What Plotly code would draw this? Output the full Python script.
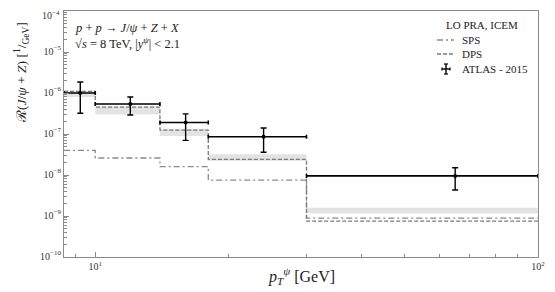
import plotly.graph_objects as go

# bin edges (GeV)
bin_edges = [8.5, 10, 14, 18, 30, 100]
# SPS (dash-dot) per bin
sps = [4.0e-8, 2.6e-8, 1.6e-8, 7.5e-9, 8.9e-10]
# DPS (dashed) per bin
dps = [1.1e-6, 4.5e-7, 1.25e-7, 2.4e-8, 7.5e-10]
# uncertainty band per bin
band_lo = [8.0e-7, 3.0e-7, 9.0e-8, 2.2e-8, 1.15e-9]
band_hi = [1.15e-6, 4.7e-7, 1.35e-7, 3.2e-8, 1.6e-9]
# ATLAS 2015 data
atlas_x = [9.25, 12.0, 16.0, 24.0, 65.0]
atlas_y = [1.0e-6, 5.4e-7, 1.9e-7, 8.6e-8, 9.5e-9]
atlas_up = [1.86e-6, 8.0e-7, 3.1e-7, 1.4e-7, 1.5e-8]
atlas_dn = [3.2e-7, 2.9e-7, 7.0e-8, 3.6e-8, 4.3e-9]

# tick labels
y_tickvals = [1e-10, 1e-9, 1e-8, 1e-7, 1e-6, 1e-5, 1e-4]
y_ticktext = ["10<sup>−10</sup>", "10<sup>−9</sup>", "10<sup>−8</sup>", "10<sup>−7</sup>",
              "10<sup>−6</sup>", "10<sup>−5</sup>", "10<sup>−4</sup>"]
x_tickvals = [10, 100]
x_ticktext = ["10<sup>1</sup>", "10<sup>2</sup>"]

legend_title = "LO PRA, ICEM"
legend_labels = ["SPS", "DPS", "ATLAS - 2015"]

FONT = "Liberation Serif"
OFF = 8  # default page body margin
W, H = 555 - OFF, 292 - OFF
ML, MR, MT, MB = 56, 17, 3, 35
PW, PH = W - ML - MR, H - MT - MB
X0, Y1 = OFF + ML, OFF + H - MB  # page pixel of plot left / bottom

def px(x):
    return (x - X0) / PW

def py(y):
    return (Y1 - y) / PH

def step(vals):
    return list(vals) + [vals[-1]]

SPS_COLOR, DPS_COLOR = "#8a8a8a", "#7a7a7a"
SPS_DASH, DPS_DASH = "6px,3px,2px,3px", "4px,2px"

fig = go.Figure()
fig.add_trace(go.Scatter(x=bin_edges, y=step(band_lo), mode="lines", line=dict(width=0, shape="hv"),
                         showlegend=False, hoverinfo="skip"))
fig.add_trace(go.Scatter(x=bin_edges, y=step(band_hi), mode="lines", line=dict(width=0, shape="hv"),
                         fill="tonexty", fillcolor="rgba(200,200,200,0.5)", showlegend=False, hoverinfo="skip"))
fig.add_trace(go.Scatter(x=bin_edges, y=step(sps), mode="lines", name="SPS", showlegend=False,
                         line=dict(color=SPS_COLOR, width=1.3, dash=SPS_DASH, shape="hv")))
fig.add_trace(go.Scatter(x=bin_edges, y=step(dps), mode="lines", name="DPS", showlegend=False,
                         line=dict(color=DPS_COLOR, width=1.3, dash=DPS_DASH, shape="hv")))

ex_plus = [bin_edges[i + 1] - atlas_x[i] for i in range(5)]
ex_minus = [atlas_x[i] - bin_edges[i] for i in range(5)]
ey_plus = [atlas_up[i] - atlas_y[i] for i in range(5)]
ey_minus = [atlas_y[i] - atlas_dn[i] for i in range(5)]
fig.add_trace(go.Scatter(x=atlas_x, y=atlas_y, mode="markers", showlegend=False, name="ATLAS - 2015",
                         marker=dict(color="black", size=4),
                         error_x=dict(type="data", symmetric=False, array=ex_plus, arrayminus=ex_minus,
                                      color="black", thickness=1.6, width=2),
                         error_y=dict(type="data", symmetric=False, array=ey_plus, arrayminus=ey_minus,
                                      color="black", thickness=1.4, width=3)))

yminor = [m * 10.0 ** k for k in range(-10, -4) for m in range(2, 10)]
xminor = [9] + [m * 10 for m in range(2, 10)]

TICKFONT = dict(family=FONT, size=10, color="#333")
axcommon = dict(showline=True, linecolor="#8a8a8a", linewidth=1, mirror=True, showgrid=False,
                zeroline=False, ticks="inside", ticklen=5, tickcolor="#8a8a8a", automargin=False,
                ticklabeloverflow="allow", tickfont=TICKFONT)

# the top label would be clipped by the page edge; it is drawn as a note just below instead
y_ticktext_axis = y_ticktext[:-1] + [""]

fig.update_layout(
    width=W, height=H,
    margin=dict(l=ML, r=MR, t=MT, b=MB, autoexpand=False),
    paper_bgcolor="white", plot_bgcolor="white",
    font=dict(family=FONT, color="#222"),
    xaxis=dict(type="log", range=[0.9294, 2.0], tickvals=x_tickvals, ticktext=x_ticktext,
               minor=dict(tickvals=xminor, ticks="inside", ticklen=3, tickcolor="#8a8a8a"),
               **axcommon),
    yaxis=dict(type="log", range=[-10, -4], tickvals=y_tickvals, ticktext=y_ticktext_axis, ticklabelshift=-1,
               minor=dict(tickvals=yminor, ticks="inside", ticklen=3, tickcolor="#8a8a8a"),
               **axcommon),
    showlegend=False,
)

def note(x, y, text, size, xa="center", ya="middle", color="#222", **kw):
    fig.add_annotation(xref="paper", yref="paper", x=px(x), y=py(y), xanchor=xa, yanchor=ya,
                       text=text, showarrow=False, font=dict(family=FONT, size=size, color=color), **kw)

note(61.5, 15, y_ticktext[-1], 10, xa="right", color="#333")

# axis titles
note(21, 73, "ℛ(<i>J</i>/<i>ψ</i> + <i>Z</i>) [<sup>1</sup>/<sub>GeV</sub>]", 13.5, textangle=-90)
note(301, 276, "<i>p</i><sub><i>T</i></sub><sup><i>ψ</i></sup> [GeV]", 16)
# process text
note(73, 28, "<i>p</i> + <i>p</i> → <i>J</i>/<i>ψ</i> + <i>Z</i> + <i>X</i>", 12.5, xa="left")
note(73, 43, "√<i>s</i> = 8 TeV, |<i>y</i><sup><i>ψ</i></sup>| &lt; 2.1", 12.5, xa="left")

# manual legend
note(482, 25, legend_title, 11)
leg_y = [40, 54, 69]
for yy, lab in zip(leg_y, legend_labels):
    note(460, yy, lab, 11, xa="left")
fig.add_shape(type="line", xref="paper", yref="paper", x0=px(437), x1=px(454), y0=py(leg_y[0]), y1=py(leg_y[0]),
              line=dict(color=SPS_COLOR, width=1.3, dash=SPS_DASH))
fig.add_shape(type="line", xref="paper", yref="paper", x0=px(437), x1=px(454), y0=py(leg_y[1]), y1=py(leg_y[1]),
              line=dict(color=DPS_COLOR, width=1.3, dash=DPS_DASH))
cy, cx = leg_y[2], 446
fig.add_shape(type="line", xref="paper", yref="paper", x0=px(cx - 4), x1=px(cx + 4), y0=py(cy), y1=py(cy),
              line=dict(color="black", width=1.4))
fig.add_shape(type="line", xref="paper", yref="paper", x0=px(cx), x1=px(cx), y0=py(cy - 5), y1=py(cy + 5),
              line=dict(color="black", width=1.4))
for dy in (-5, 5):
    fig.add_shape(type="line", xref="paper", yref="paper", x0=px(cx - 2), x1=px(cx + 2),
                  y0=py(cy + dy), y1=py(cy + dy), line=dict(color="black", width=1.2))
for dx in (-4, 4):
    fig.add_shape(type="line", xref="paper", yref="paper", x0=px(cx + dx), x1=px(cx + dx),
                  y0=py(cy - 1.5), y1=py(cy + 1.5), line=dict(color="black", width=1.2))

fig.write_html("out.html")
